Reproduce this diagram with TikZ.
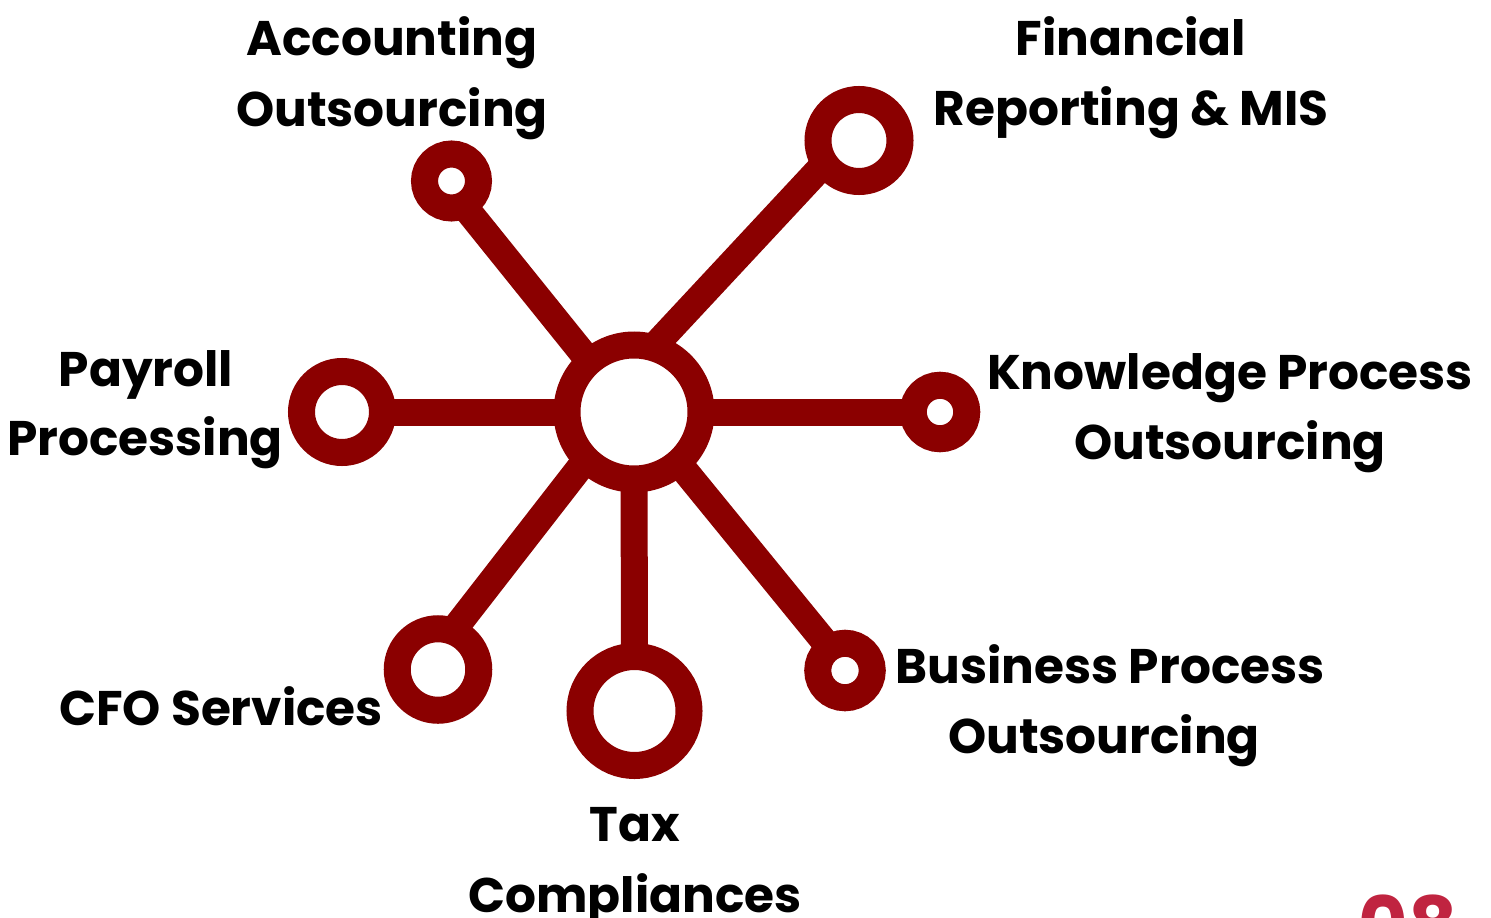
\documentclass[tikz,border=0pt]{standalone}
\usepackage{fontspec}
\setmainfont{Poppins}
\usetikzlibrary{calc}
\pgfdeclarelayer{background}
\pgfsetlayers{background,main}
\definecolor{spokered}{RGB}{139,0,0}
\definecolor{numred}{RGB}{192,36,64}
\begin{document}
\begin{tikzpicture}[x=1pt,y=-1pt,
  ring/.style={circle,draw=spokered,fill=white,line width=27pt,inner sep=0pt,outer sep=0pt,minimum size=#1},
  spokeline/.style={draw=spokered,line width=27pt},
  lbl/.style={font=\fontsize{48.6}{58}\selectfont\bfseries,anchor=base,inner sep=0pt,text=black},
]
\useasboundingbox (0,0) rectangle (1491,918);
\clip (0,0) rectangle (1491,918);
% rings (minimum size = outer radius + inner radius)
\node[ring=134] (hub) at (634,412) {};
\node[ring=54]  (acc) at (451.5,181) {};
\node[ring=82]  (fin) at (859,140.5) {};
\node[ring=81]  (pay) at (342,412) {};
\node[ring=53.5] (kno) at (940,412) {};
\node[ring=81.5] (cfo) at (438,669.5) {};
\node[ring=109] (tax) at (634.5,711) {};
\node[ring=54.5] (bus) at (845,670.5) {};
% spokes
\begin{pgfonlayer}{background}
\draw[spokeline] ($(hub)+(-4,0)$) -- ($(acc)+(-7.5,0)$);
\draw[spokeline] ($(hub)+(-41,0)$) -- ($(fin)+(-13,0)$);
\draw[spokeline] (hub.center) -- (pay.center);
\draw[spokeline] (hub.center) -- (kno.center);
\draw[spokeline] ($(hub)+(-11,0)$) -- ($(cfo)+(-15,0)$);
\draw[spokeline] (hub.center) -- (tax.center);
\draw[spokeline] ($(hub)+(3,0)$) -- ($(bus)+(3,0)$);
\end{pgfonlayer}
% labels
\node[lbl] (accA) at (392,55) {Accounting};
\node[lbl] (accB) at (392,126) {Outsourcing};
\node[lbl] (finA) at (1131,55) {Financial};
\node[lbl] (finB) at (1131,125) {Reporting \& MIS};
\node[lbl] (payA) at (146,386) {Payroll};
\node[lbl] (payB) at (145,455) {Processing};
\node[lbl] (knoA) at (1230,389) {Knowledge Process};
\node[lbl] (knoB) at (1230,459) {Outsourcing};
\node[lbl] (cfoA) at (221,725) {CFO Services};
\node[lbl] (busA) at (1110,683) {Business Process};
\node[lbl] (busB) at (1104,753) {Outsourcing};
\node[lbl] (taxA) at (635,841) {Tax};
\node[lbl] (taxB) at (635,912) {Compliances};
\node[font=\fontsize{76}{86}\selectfont\bfseries,anchor=base,inner sep=0pt,text=numred] (num) at (1408,951) {08};
\end{tikzpicture}
\end{document}
